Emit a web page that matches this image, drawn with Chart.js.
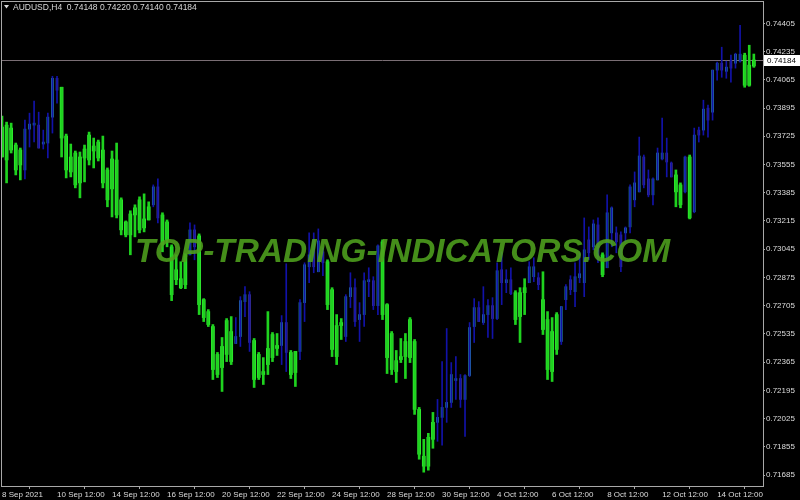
<!DOCTYPE html>
<html>
<head>
<meta charset="utf-8">
<script src="https://cdn.jsdelivr.net/npm/chart.js@4/dist/chart.umd.min.js"></script>
<style>
html, body { margin: 0; padding: 0; background: #000; }
#wrap { width: 800px; height: 500px; }
</style>
</head>
<body>
<div id="wrap"><canvas id="chart" width="800" height="500"></canvas></div>
<script>
const symbol = 'AUDUSD,H4';

// H4 bars, oldest first
const opens = [
0.73600,0.73582,0.73642,0.73522,0.73552,0.73522,0.73768,0.73792,0.73792,0.73678,
0.73684,0.73840,0.74074,0.73714,0.73522,0.73510,0.73432,0.73444,0.73594,0.73582,
0.73636,0.73594,0.73444,0.73342,0.73408,0.73251,0.73161,0.73131,0.73131,0.73251,
0.73161,0.73173,0.73221,0.73312,0.73420,0.73071,0.73101,0.72771,0.72861,0.72813,
0.72831,0.73011,0.73161,0.72711,0.72633,0.72591,0.72320,0.72290,0.72332,0.72411,
0.72368,0.72477,0.72519,0.72729,0.72771,0.72260,0.72272,0.72290,0.72350,0.72392,
0.72447,0.72465,0.72603,0.72290,0.72302,0.72429,0.72723,0.72939,0.73101,0.72909,
0.73029,0.72711,0.72441,0.72398,0.72585,0.72519,0.72759,0.72813,0.72621,0.72651,
0.72849,0.72855,0.72705,0.72651,0.72392,0.72320,0.72308,0.72380,0.72398,0.72392,
0.72080,0.71810,0.71738,0.71738,0.71900,0.72002,0.72032,0.72092,0.72122,0.72254,
0.72266,0.72140,0.72284,0.72579,0.72693,0.72603,0.72651,0.72705,0.72627,0.72921,
0.72843,0.72861,0.72621,0.72639,0.72783,0.72843,0.72879,0.72873,0.72561,0.72320,
0.72308,0.72441,0.72489,0.72741,0.72861,0.72789,0.72873,0.72843,0.73101,0.73059,
0.73191,0.72891,0.72933,0.73143,0.73143,0.73131,0.73143,0.73179,0.73342,0.73390,
0.73600,0.73468,0.73372,0.73462,0.73588,0.73624,0.73564,0.73390,0.73312,0.73390,
0.73233,0.73270,0.73762,0.73762,0.73894,0.73870,0.74123,0.74165,0.74116,0.74183,
0.74165,0.74177,0.74032,0.74032,0.74148];

const highs = [
0.73846,0.73810,0.73804,0.73684,0.73654,0.73822,0.73864,0.73936,0.73870,0.73762,
0.73864,0.74086,0.74086,0.74020,0.73738,0.73678,0.73636,0.73630,0.73672,0.73750,
0.73714,0.73702,0.73726,0.73534,0.73636,0.73684,0.73354,0.73215,0.73276,0.73312,
0.73360,0.73378,0.73330,0.73432,0.73468,0.73264,0.73221,0.73071,0.73011,0.72969,
0.73017,0.73203,0.73191,0.73137,0.72747,0.72681,0.72591,0.72423,0.72513,0.72627,
0.72639,0.72633,0.72759,0.72819,0.72789,0.72507,0.72423,0.72392,0.72669,0.72543,
0.72537,0.72645,0.72957,0.72435,0.72429,0.72741,0.72963,0.73143,0.73143,0.73167,
0.73053,0.72981,0.72813,0.72651,0.72627,0.72771,0.72903,0.72867,0.72723,0.72903,
0.72933,0.72879,0.73071,0.73101,0.72717,0.72549,0.72435,0.72507,0.72537,0.72633,
0.72501,0.72092,0.71900,0.71936,0.72062,0.72140,0.72368,0.72567,0.72362,0.72398,
0.72290,0.72290,0.72603,0.72747,0.72729,0.72819,0.72741,0.72753,0.72963,0.73029,
0.72921,0.72933,0.72795,0.72813,0.72867,0.72969,0.72993,0.72903,0.72909,0.72669,
0.72633,0.72663,0.72699,0.72831,0.72885,0.72963,0.73023,0.73233,0.73179,0.73221,
0.73233,0.73023,0.73372,0.73300,0.73179,0.73149,0.73179,0.73432,0.73510,0.73720,
0.73612,0.73522,0.73474,0.73654,0.73834,0.73714,0.73570,0.73522,0.73444,0.73606,
0.73612,0.73774,0.73780,0.73942,0.73912,0.74123,0.74171,0.74261,0.74177,0.74213,
0.74225,0.74393,0.74225,0.74273,0.74220];

const lows = [
0.73600,0.73444,0.73624,0.73492,0.73462,0.73468,0.73660,0.73690,0.73654,0.73648,
0.73594,0.73744,0.73924,0.73600,0.73474,0.73480,0.73414,0.73354,0.73450,0.73552,
0.73534,0.73576,0.73414,0.73300,0.73239,0.73233,0.73131,0.73119,0.73011,0.73119,
0.73143,0.73149,0.73221,0.73300,0.73203,0.73029,0.73059,0.72735,0.72831,0.72807,
0.72807,0.73011,0.72981,0.72651,0.72609,0.72579,0.72260,0.72272,0.72188,0.72368,
0.72350,0.72477,0.72459,0.72639,0.72429,0.72212,0.72260,0.72230,0.72290,0.72368,
0.72405,0.72350,0.72308,0.72266,0.72218,0.72380,0.72609,0.72843,0.72903,0.72909,
0.72885,0.72681,0.72398,0.72350,0.72501,0.72489,0.72693,0.72579,0.72489,0.72579,
0.72759,0.72681,0.72651,0.72621,0.72296,0.72290,0.72242,0.72362,0.72266,0.72362,
0.72050,0.71780,0.71702,0.71714,0.71846,0.71888,0.71864,0.72002,0.72092,0.72140,
0.72092,0.71918,0.72278,0.72483,0.72609,0.72591,0.72513,0.72507,0.72621,0.72711,
0.72783,0.72771,0.72591,0.72483,0.72651,0.72843,0.72849,0.72801,0.72531,0.72260,
0.72248,0.72411,0.72471,0.72681,0.72771,0.72699,0.72843,0.72759,0.72981,0.73041,
0.72963,0.72879,0.72933,0.73059,0.73023,0.72909,0.73089,0.73143,0.73300,0.73390,
0.73414,0.73360,0.73312,0.73462,0.73582,0.73480,0.73480,0.73300,0.73294,0.73384,
0.73227,0.73264,0.73690,0.73732,0.73720,0.73822,0.74062,0.74080,0.74074,0.74050,
0.74135,0.74171,0.74020,0.74026,0.74140];

const closes = [
0.73780,0.73792,0.73774,0.73672,0.73642,0.73768,0.73798,0.73804,0.73654,0.73690,
0.73840,0.74074,0.74002,0.74020,0.73726,0.73600,0.73624,0.73600,0.73648,0.73732,
0.73666,0.73690,0.73642,0.73522,0.73588,0.73582,0.73342,0.73209,0.73257,0.73294,
0.73342,0.73227,0.73300,0.73420,0.73233,0.73251,0.73209,0.73059,0.72921,0.72867,
0.73005,0.73161,0.73059,0.73125,0.72741,0.72669,0.72579,0.72411,0.72459,0.72615,
0.72549,0.72519,0.72735,0.72771,0.72483,0.72495,0.72411,0.72308,0.72447,0.72531,
0.72465,0.72603,0.72423,0.72423,0.72429,0.72723,0.72951,0.73011,0.72939,0.73095,
0.72963,0.72969,0.72801,0.72585,0.72603,0.72759,0.72813,0.72609,0.72651,0.72855,
0.72861,0.72705,0.73065,0.73089,0.72711,0.72537,0.72374,0.72398,0.72489,0.72621,
0.72489,0.72080,0.71798,0.71912,0.72002,0.72032,0.72092,0.72122,0.72290,0.72266,
0.72140,0.72284,0.72573,0.72693,0.72609,0.72651,0.72705,0.72627,0.72915,0.72843,
0.72861,0.72777,0.72783,0.72783,0.72813,0.72939,0.72939,0.72831,0.72741,0.72621,
0.72549,0.72651,0.72699,0.72819,0.72801,0.72879,0.72897,0.73041,0.73023,0.73197,
0.72999,0.73011,0.73264,0.73294,0.73089,0.72939,0.73173,0.73420,0.73444,0.73606,
0.73432,0.73372,0.73468,0.73624,0.73624,0.73570,0.73480,0.73492,0.73432,0.73600,
0.73600,0.73732,0.73732,0.73888,0.73822,0.74123,0.74165,0.74123,0.74141,0.74135,
0.74219,0.74219,0.74213,0.74153,0.74184];

// 1 = bar painted green by the indicator
const green = [
1,1,1,1,1,0,0,0,0,0, 0,0,0,1,1,1,1,1,1,1, 1,1,1,1,1,1,1,1,1,1,
1,1,1,0,0,1,1,1,1,1, 1,0,0,1,1,1,1,1,1,1, 1,0,0,0,0,1,1,1,1,1,
1,0,0,1,1,0,0,0,0,0, 0,1,1,1,1,0,0,0,0,0, 0,0,0,1,1,1,1,1,1,1,
1,1,1,1,1,0,0,0,0,0, 0,0,0,0,0,0,0,0,0,0, 0,0,1,1,1,0,0,0,1,1,
1,1,0,0,0,0,0,0,0,0, 0,1,0,0,0,0,0,0,0,0, 0,0,0,0,0,0,0,1,1,0,
1,0,0,0,0,0,0,0,0,0, 0,0,1,1,1];

const timeLabels = ['8 Sep 2021', '10 Sep 12:00', '14 Sep 12:00', '16 Sep 12:00', '20 Sep 12:00',
  '22 Sep 12:00', '24 Sep 12:00', '28 Sep 12:00', '30 Sep 12:00', '4 Oct 12:00',
  '6 Oct 12:00', '8 Oct 12:00', '12 Oct 12:00', '14 Oct 12:00'];
const labelStep = 12;

const priceTicks = [0.71685, 0.71855, 0.72025, 0.72195, 0.72365, 0.72535, 0.72705, 0.72875,
  0.73045, 0.73215, 0.73385, 0.73555, 0.73725, 0.73895, 0.74065, 0.74235, 0.74405];

const watermark = 'TOP-TRADING-INDICATORS.COM';

const last = opens.length - 1;
const lastPrice = closes[last];
const categories = Array.from({ length: opens.length + 2 }, (_, i) => i);

// split the bars into green / blue sets, so each gets its own width
const pick = (flag, fn) => green.map((g, i) => g === flag ? fn(i) : null);
const blueBody = opens.map((o, i) => closes[i] >= o ? '#2a8fae' : '#4a3c96');

const barSet = (data, color, width) => ({
  data, backgroundColor: color, barThickness: width, minBarLength: 1, grouped: false
});

const smallFont = { family: '"Liberation Sans", Arial, sans-serif', size: 8 };

const mtPlugin = {
  id: 'mt',
  beforeDraw(chart) {
    const c = chart.ctx;
    c.save();
    c.fillStyle = '#000';
    c.fillRect(0, 0, chart.width, chart.height);
    c.restore();
  },
  beforeDatasetsDraw(chart) {
    const c = chart.ctx;
    const a = chart.chartArea;
    const y = Math.round(chart.scales.y.getPixelForValue(lastPrice)) + 0.5;
    c.save();
    c.strokeStyle = '#7a6e74';
    c.lineWidth = 1;
    c.beginPath();
    c.moveTo(a.left, y);
    c.lineTo(a.right, y);
    c.stroke();
    c.restore();
  },
  afterDatasetsDraw(chart) {
    const c = chart.ctx;
    c.save();
    c.globalAlpha = 0.88;
    c.font = 'italic bold 34px "Liberation Sans", Arial, sans-serif';
    c.fillStyle = '#4ea21e';
    c.textAlign = 'left';
    c.textBaseline = 'alphabetic';
    c.fillText(watermark, 135, 262, 535);
    c.restore();
  },
  afterDraw(chart) {
    const c = chart.ctx;
    const a = chart.chartArea;
    const y = Math.round(chart.scales.y.getPixelForValue(lastPrice));
    c.save();
    c.strokeStyle = '#a8a8a8';
    c.lineWidth = 1;
    c.strokeRect(a.left - 0.5, a.top - 0.5, a.right - a.left + 1, a.bottom - a.top + 1);
    // last price box
    c.fillStyle = '#ffffff';
    c.fillRect(a.right + 1, y - 5, 800 - a.right - 1, 11);
    c.fillStyle = '#000';
    c.font = '8px "Liberation Sans", Arial, sans-serif';
    c.textBaseline = 'middle';
    c.fillText(lastPrice.toFixed(5), a.right + 4, y + 0.5);
    // header
    c.fillStyle = '#d8d8d8';
    c.beginPath();
    c.moveTo(4, 5); c.lineTo(9, 5); c.lineTo(6.5, 8.5); c.closePath();
    c.fill();
    const head = [opens[last], highs[last], lows[last], closes[last]].map(v => v.toFixed(5)).join(' ');
    c.font = '8.5px "Liberation Sans", Arial, sans-serif';
    c.fillText(symbol + '  ' + head, 13, 7.5);
    c.restore();
  }
};

new Chart(document.getElementById('chart'), {
  type: 'bar',
  data: {
    labels: categories,
    datasets: [
      barSet(pick(0, i => [lows[i], highs[i]]), '#1212a8', 1),
      barSet(pick(0, i => [opens[i], closes[i]]), blueBody, 2),
      barSet(pick(1, i => [lows[i], highs[i]]), '#1fd21f', 2),
      barSet(pick(1, i => [opens[i], closes[i]]), '#3cff3c', 3)
    ]
  },
  options: {
    responsive: false,
    animation: false,
    layout: { padding: { left: 2, top: 2, right: 0, bottom: 0 } },
    plugins: { legend: { display: false }, tooltip: { enabled: false } },
    scales: {
      x: {
        offset: false,
        border: { display: false },
        grid: { drawOnChartArea: false, drawTicks: true, tickLength: 3, color: '#a8a8a8' },
        ticks: {
          autoSkip: false,
          maxRotation: 0,
          align: 'start',
          padding: 1,
          color: '#dcdcdc',
          font: smallFont,
          callback: (v, i) => i % labelStep === 0 ? timeLabels[i / labelStep] : null
        },
        afterFit: s => { s.height = 14; s.paddingLeft = 0; s.paddingRight = 0; }
      },
      y: {
        position: 'right',
        min: 0.716188,
        max: 0.745333,
        border: { display: false },
        grid: { drawOnChartArea: false, drawTicks: true, tickLength: 2, color: '#a8a8a8' },
        afterBuildTicks: s => { s.ticks = priceTicks.map(v => ({ value: v })); },
        ticks: {
          padding: 1,
          color: '#dcdcdc',
          font: smallFont,
          callback: v => Number(v).toFixed(5)
        },
        afterFit: s => { s.width = 37; s.paddingTop = 0; s.paddingBottom = 0; }
      }
    }
  },
  plugins: [mtPlugin]
});
</script>
</body>
</html>
